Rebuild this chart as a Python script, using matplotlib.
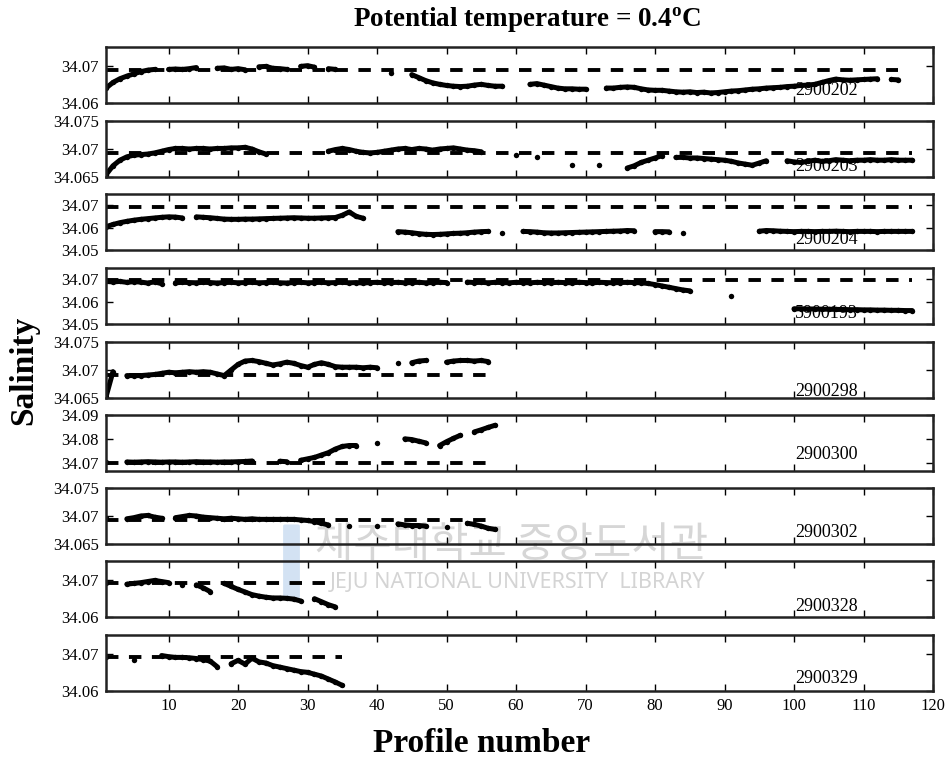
import numpy as np
import matplotlib
matplotlib.use('Agg')
import matplotlib.pyplot as plt
from matplotlib.ticker import FuncFormatter
from matplotlib.patches import FancyBboxPatch

nan = np.nan

# ---------------- data ----------------
float_ids = ['2900202', '2900203', '2900204', '5900193', '2900298',
             '2900300', '2900302', '2900328', '2900329']
ref_sal = [34.0689, 34.0692, 34.0694, 34.0697, 34.0691,
           34.0700, 34.0693, 34.0690, 34.0691]
n_prof = [115, 117, 117, 117, 56, 57, 57, 34, 35]
y_limits = [(34.06, 34.075), (34.065, 34.075), (34.05, 34.075), (34.05, 34.075),
            (34.065, 34.075), (34.0665, 34.09), (34.065, 34.075),
            (34.06, 34.075), (34.06, 34.075)]
y_ticks = [[34.06, 34.07], [34.065, 34.07, 34.075], [34.05, 34.06, 34.07],
           [34.05, 34.06, 34.07], [34.065, 34.07, 34.075], [34.07, 34.08, 34.09],
           [34.065, 34.07, 34.075], [34.06, 34.07], [34.06, 34.07]]
x_ticks = [10, 20, 30, 40, 50, 60, 70, 80, 90, 100, 110, 120]

# salinity segments: first profile number -> consecutive values
sal_2900202 = {
    1: [34.0640, 34.0655, 34.0665, 34.0672, 34.0678, 34.0684, 34.0688, 34.0690],
    10: [34.0690, 34.0691, 34.0690, 34.0692, 34.0695],
    17: [34.0693, 34.0694, 34.0690, 34.0692, 34.0689],
    23: [34.0697, 34.0698, 34.0693, 34.0692, 34.0690],
    29: [34.0698, 34.0700, 34.0696],
    33: [34.0692, 34.0690],
    42: [34.0680],
    45: [34.0676, 34.0668, 34.0660, 34.0654, 34.0650, 34.0647, 34.0645, 34.0644,
         34.0645, 34.0648, 34.0650, 34.0647, 34.0645, 34.0645],
    62: [34.0650, 34.0652, 34.0648, 34.0644, 34.0640, 34.0638, 34.0638, 34.0637, 34.0637],
    73: [34.0640, 34.0640, 34.0642, 34.0643, 34.0642, 34.0638, 34.0635, 34.0634,
         34.0634, 34.0632, 34.0630, 34.0629, 34.0630, 34.0628, 34.0629, 34.0627,
         34.0628, 34.0630, 34.0632, 34.0633, 34.0635, 34.0637, 34.0638, 34.0640,
         34.0641, 34.0642, 34.0644, 34.0645, 34.0647, 34.0648, 34.0650, 34.0655,
         34.0660, 34.0664, 34.0662, 34.0661, 34.0662, 34.0663, 34.0664, 34.0665],
    114: [34.0663, 34.0662],
}
sal_2900203 = {
    1: [34.0654, 34.0670, 34.0680, 34.0686, 34.0689, 34.0690, 34.0691, 34.0693,
        34.0696, 34.0699, 34.0701, 34.0701, 34.0700, 34.0701, 34.0701, 34.0700,
        34.0701, 34.0701, 34.0702, 34.0702, 34.0703, 34.0700, 34.0695, 34.0691],
    33: [34.0696, 34.0699, 34.0701, 34.0699, 34.0696, 34.0694, 34.0693, 34.0694,
         34.0696, 34.0698, 34.0700, 34.0701, 34.0699, 34.0701, 34.0700, 34.0698,
         34.0700, 34.0701, 34.0702, 34.0700, 34.0698, 34.0697, 34.0695],
    60: [34.0689],
    63: [34.0686],
    68: [34.0671],
    72: [34.0671],
    76: [34.0666, 34.0670, 34.0676, 34.0680, 34.0684, 34.0688],
    83: [34.0685, 34.0685, 34.0684, 34.0684, 34.0683, 34.0682, 34.0681, 34.0680,
         34.0678, 34.0675, 34.0673, 34.0671, 34.0675, 34.0679],
    99: [34.0679, 34.0677, 34.0676, 34.0678, 34.0680, 34.0678, 34.0679, 34.0681,
         34.0680, 34.0679, 34.0680, 34.0680, 34.0681, 34.0680, 34.0680, 34.0681,
         34.0680, 34.0680, 34.0680],
}
sal_2900204 = {
    1: [34.0604, 34.0614, 34.0622, 34.0628, 34.0633, 34.0637, 34.0640, 34.0643,
        34.0646, 34.0648, 34.0647, 34.0643],
    14: [34.0648, 34.0646, 34.0644, 34.0641, 34.0638, 34.0637, 34.0637, 34.0638,
         34.0638, 34.0639, 34.0640, 34.0641, 34.0642, 34.0643, 34.0644, 34.0643,
         34.0642, 34.0642, 34.0643, 34.0644, 34.0645, 34.0655, 34.0670, 34.0650, 34.0642],
    43: [34.0582, 34.0580, 34.0577, 34.0573, 34.0570, 34.0569, 34.0570, 34.0572,
         34.0574, 34.0575, 34.0577, 34.0580, 34.0582, 34.0583],
    58: [34.0578],
    61: [34.0583, 34.0582, 34.0580, 34.0577, 34.0576, 34.0576, 34.0577, 34.0578,
         34.0579, 34.0580, 34.0581, 34.0582, 34.0583, 34.0584, 34.0585, 34.0587, 34.0586],
    80: [34.0582, 34.0582, 34.0581],
    84: [34.0578],
    95: [34.0584, 34.0587, 34.0586, 34.0584, 34.0583, 34.0582, 34.0583, 34.0583,
         34.0582, 34.0583, 34.0583, 34.0584, 34.0583, 34.0582, 34.0583, 34.0583,
         34.0583, 34.0582, 34.0583, 34.0583, 34.0583, 34.0583, 34.0583],
}
sal_5900193 = {
    1: [34.0690, 34.0688, 34.0690, 34.0686, 34.0689, 34.0687, 34.0683, 34.0688, 34.0680],
    11: [34.0684, 34.0686, 34.0685, 34.0684, 34.0686, 34.0685, 34.0683, 34.0685,
         34.0686, 34.0684, 34.0685, 34.0686, 34.0684, 34.0685, 34.0686, 34.0684,
         34.0683, 34.0685, 34.0686, 34.0684, 34.0685, 34.0686, 34.0684, 34.0685,
         34.0686, 34.0684, 34.0685, 34.0683, 34.0685, 34.0686, 34.0684, 34.0685,
         34.0686, 34.0684, 34.0685, 34.0686, 34.0684, 34.0685, 34.0686, 34.0685],
    53: [34.0687, 34.0685, 34.0686, 34.0684, 34.0686, 34.0685, 34.0684, 34.0686,
         34.0685, 34.0684, 34.0686, 34.0685, 34.0684, 34.0686, 34.0685, 34.0684,
         34.0686, 34.0685, 34.0684, 34.0686, 34.0685, 34.0684, 34.0685, 34.0686,
         34.0685, 34.0684, 34.0681, 34.0676, 34.0670, 34.0664, 34.0658, 34.0652, 34.0648],
    91: [34.0625],
    100: [34.0568, 34.0568, 34.0567, 34.0567, 34.0566, 34.0566, 34.0565, 34.0565,
          34.0564, 34.0564, 34.0563, 34.0563, 34.0562, 34.0562, 34.0561, 34.0561,
          34.0560, 34.0560],
}
sal_2900298 = {
    1: [34.0652, 34.0697],
    4: [34.0690, 34.0690, 34.0690, 34.0691, 34.0692, 34.0694, 34.0696, 34.0695,
        34.0696, 34.0697, 34.0696, 34.0697, 34.0696, 34.0693, 34.0690],
    19: [34.0700, 34.0710, 34.0716, 34.0717, 34.0715, 34.0712, 34.0709, 34.0711,
         34.0714, 34.0712, 34.0708, 34.0705, 34.0710, 34.0713, 34.0710, 34.0706,
         34.0705, 34.0705, 34.0705, 34.0704, 34.0705, 34.0704],
    43: [34.0712],
    45: [34.0713, 34.0716, 34.0717],
    50: [34.0714, 34.0716, 34.0717, 34.0717, 34.0716, 34.0717, 34.0715],
}
sal_2900300 = {
    1: [34.0702],
    4: [34.0703, 34.0702, 34.0703, 34.0704, 34.0703, 34.0702, 34.0703, 34.0703,
        34.0702, 34.0703, 34.0704, 34.0703, 34.0703, 34.0702, 34.0703, 34.0703,
        34.0704, 34.0705, 34.0707],
    26: [34.0706, 34.0704],
    29: [34.0710, 34.0716, 34.0722, 34.0732, 34.0742, 34.0757, 34.0768, 34.0772, 34.0772],
    40: [34.0782],
    44: [34.0800, 34.0797, 34.0790, 34.0783],
    49: [34.0772, 34.0788, 34.0802, 34.0815],
    54: [34.0829, 34.0838, 34.0848, 34.0857],
}
sal_2900302 = {
    1: [34.0697],
    4: [34.0695, 34.0697, 34.0700, 34.0701, 34.0698, 34.0696],
    11: [34.0697, 34.0699, 34.0701, 34.0700, 34.0698, 34.0697, 34.0696, 34.0695,
         34.0696, 34.0695, 34.0694, 34.0695, 34.0694, 34.0694, 34.0694, 34.0694,
         34.0694, 34.0694, 34.0693, 34.0692, 34.0690, 34.0687, 34.0684],
    36: [34.0683],
    40: [34.0682],
    43: [34.0686, 34.0684, 34.0683, 34.0683, 34.0682],
    50: [34.0681],
    53: [34.0687, 34.0685, 34.0682, 34.0678, 34.0676],
}
sal_2900328 = {
    1: [34.0690],
    4: [34.0688, 34.0690, 34.0692, 34.0695, 34.0698, 34.0695, 34.0692],
    12: [34.0687],
    14: [34.0686, 34.0678, 34.0668],
    18: [34.0690, 34.0682, 34.0674, 34.0667, 34.0660, 34.0656, 34.0653, 34.0651,
         34.0651, 34.0650, 34.0648, 34.0643],
    31: [34.0649, 34.0641, 34.0633, 34.0627],
}
sal_2900329 = {
    1: [34.0691],
    5: [34.0682],
    9: [34.0695, 34.0692, 34.0690, 34.0690, 34.0689, 34.0687, 34.0684, 34.0680, 34.0665],
    19: [34.0673, 34.0682, 34.0672, 34.0688, 34.0678, 34.0675, 34.0668, 34.0664,
         34.0660, 34.0656, 34.0652, 34.0650, 34.0645, 34.0640, 34.0632, 34.0624, 34.0615],
}
all_sal = [sal_2900202, sal_2900203, sal_2900204, sal_5900193, sal_2900298,
           sal_2900300, sal_2900302, sal_2900328, sal_2900329]

# ---------------- layout ----------------
W, H = 946, 763
ax_left_px, ax_right_px = 106, 933
ax_tops_px = [47, 121, 194, 268, 342, 415, 488, 561, 635]
ax_h_px = 56
label_yfrac = [0.23, 0.18, 0.18, 0.18, 0.12, 0.30, 0.20, 0.18, 0.23]

serif = ['Liberation Serif', 'DejaVu Serif']
plt.rcParams['font.family'] = serif
plt.rcParams['mathtext.fontset'] = 'custom'
plt.rcParams['mathtext.rm'] = 'Liberation Serif'
plt.rcParams['mathtext.bf'] = 'Liberation Serif:bold'


def expand(segs, n):
    s = np.full(n, np.nan)
    for start, vals in segs.items():
        s[start - 1:start - 1 + len(vals)] = vals
    return s


fig = plt.figure(figsize=(W / 100, H / 100), dpi=100)

# faint library watermark (behind the data)
fig.text(512 / W, 1 - 546 / H, '제주대학교 중앙도서관', fontsize=30,
         family=['Noto Sans CJK KR', 'DejaVu Sans'], color='#d6d6d6',
         ha='center', va='center', zorder=-5)
fig.text(517 / W, 1 - 583 / H, 'JEJU NATIONAL UNIVERSITY  LIBRARY', fontsize=15.5,
         family=['Noto Sans', 'DejaVu Sans'], color='#d4d4d4',
         ha='center', va='center', zorder=-5)
fig.patches.append(FancyBboxPatch((285 / W, 1 - 598 / H), 13 / W, 72 / H,
                                  boxstyle='round,pad=0.002', transform=fig.transFigure,
                                  facecolor='#d3e2f3', edgecolor='none', zorder=-6))

for i in range(9):
    top = ax_tops_px[i]
    ax = fig.add_axes([ax_left_px / W, 1 - (top + ax_h_px) / H,
                       (ax_right_px - ax_left_px) / W, ax_h_px / H])
    ax.set_facecolor('none')
    prof = np.arange(1, n_prof[i] + 1)
    sal = expand(all_sal[i], n_prof[i])
    ax.hlines(ref_sal[i], prof[0], prof[-1], colors='k', linewidth=2.8,
              linestyles=(0, (3.2, 2.7)))
    ax.plot(prof, sal, '-', color='k', linewidth=3.6, marker='o',
            markersize=3.9, markeredgewidth=0,
            solid_capstyle='round', solid_joinstyle='round')
    ax.set_xlim(1, 120)
    ax.set_ylim(*y_limits[i])
    ax.set_yticks(y_ticks[i])
    ax.yaxis.set_major_formatter(FuncFormatter(lambda v, p: f'{v:g}'))
    ax.set_xticks(x_ticks)
    ax.tick_params(direction='in', top=True, right=True, length=5, width=1,
                   labelsize=12, pad=5)
    if i < 8:
        ax.tick_params(labelbottom=False)
    for sp in ax.spines.values():
        sp.set_linewidth(1.8)
        sp.set_color('#222222')
    ax.text(0.833, label_yfrac[i], float_ids[i], transform=ax.transAxes,
            fontsize=13, va='center', ha='left')

fig.text(527 / W, 1 - 20 / H, r'Potential temperature = 0.4$^{\mathbf{o}}$C',
         fontsize=19.5, fontweight='bold', ha='center', va='center')
fig.text(482 / W, 1 - 743 / H, 'Profile number', fontsize=24,
         fontweight='bold', ha='center', va='center')
fig.text(24 / W, 1 - 370 / H, 'Salinity', fontsize=24, fontweight='bold',
         rotation=90, ha='center', va='center')

fig.savefig('out.png', dpi=100)
